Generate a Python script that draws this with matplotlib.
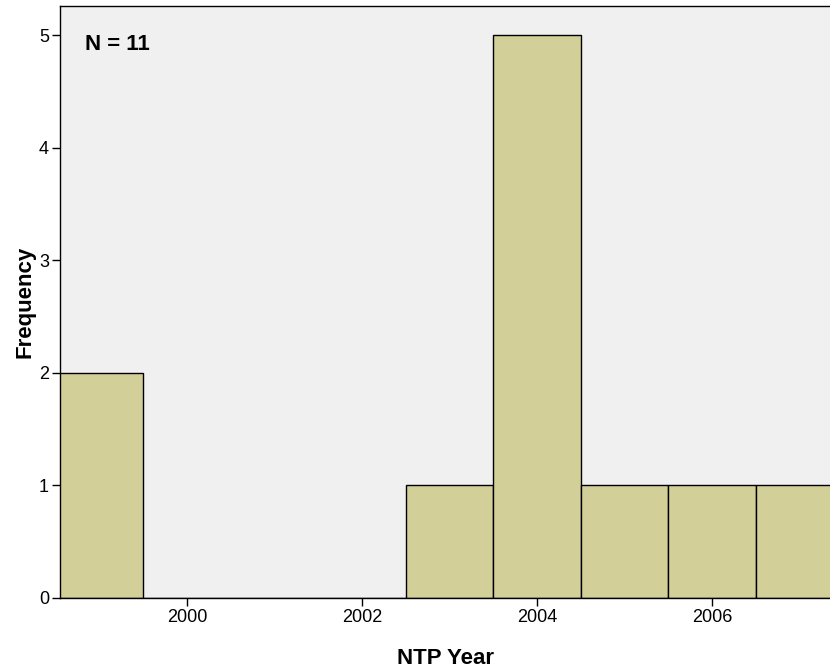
import matplotlib
matplotlib.use('Agg')
import matplotlib.pyplot as plt
import numpy as np

plt.rcParams['font.family'] = ['Liberation Sans', 'DejaVu Sans']

# NTP year for each of the 11 cases
ntp_years = [1999, 1999, 2003, 2004, 2004, 2004, 2004, 2004, 2005, 2006, 2007]
bin_edges = np.arange(1998.5, 2008.5, 1.0)
x_ticks = [2000, 2002, 2004, 2006]
y_ticks = [0, 1, 2, 3, 4, 5]

fig = plt.figure(figsize=(8.3, 6.68), dpi=100)
ax = fig.add_axes([60 / 830, 70 / 668, 770 / 830, 592 / 668])
ax.set_facecolor('#F0F0F0')

ax.hist(ntp_years, bins=bin_edges, color='#D3CF98', edgecolor='black', linewidth=1.0)

ax.set_xlim(1998.55, 2007.35)
ax.set_ylim(0, 5.26)
ax.set_xticks(x_ticks)
ax.set_yticks(y_ticks)
ax.tick_params(axis='both', labelsize=13, length=6, width=1.0, direction='out', pad=2)

for side in ['top', 'left', 'bottom']:
    ax.spines[side].set_linewidth(1.0)
ax.spines['right'].set_visible(False)

ax.set_xlabel('NTP Year', fontsize=16, fontweight='bold', labelpad=16)
ax.set_ylabel('Frequency', fontsize=16, fontweight='bold', labelpad=2)

ax.text(0.033, 0.935, 'N = 11', transform=ax.transAxes, fontsize=16, fontweight='bold',
        ha='left', va='center')

plt.savefig('out.png', dpi=100)
